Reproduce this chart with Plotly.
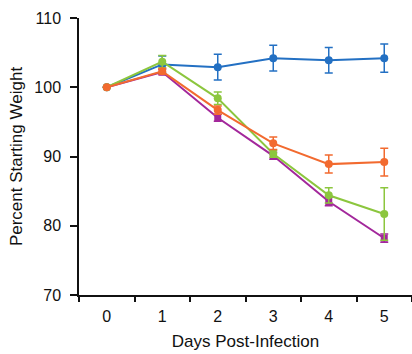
import plotly.graph_objects as go

days = ["0", "1", "2", "3", "4", "5"]
blue_vals = [100, 103.3, 102.9, 104.2, 103.9, 104.2]
blue_err = [0, 1.2, 1.85, 1.85, 1.85, 2.05]
orange_vals = [100, 102.3, 96.7, 91.9, 88.9, 89.2]
orange_err = [0, 0.4, 0.6, 0.9, 1.3, 2.0]
green_vals = [100, 103.7, 98.4, 90.4, 84.4, 81.7]
green_err = [0, 0.9, 0.9, 0.5, 1.1, 3.8]
purple_vals = [100, 102.2, 95.6, 90.1, 83.5, 78.2]
purple_err = [0, 0.4, 0.5, 0.5, 0.6, 0.6]

series = [
    (purple_vals, purple_err, "#a3279b", ["circle"] + ["square"] * 5, 7),
    (blue_vals, blue_err, "#2370c3", "circle", 8),
    (green_vals, green_err, "#8cc63e", "circle", 8),
    (orange_vals, orange_err, "#f26a2f", "circle", 8),
]

fig = go.Figure()
for vals, err, color, sym, size in series:
    fig.add_trace(go.Scatter(
        x=days, y=vals, mode="lines+markers",
        line=dict(color=color, width=2),
        marker=dict(color=color, size=size, symbol=sym),
        error_y=dict(type="data", array=err, visible=True, color=color, thickness=1.5, width=4),
        showlegend=False,
    ))

font = dict(family="Liberation Sans, Arial, sans-serif", size=14, color="#111")
tickfont = dict(family="Liberation Sans, Arial, sans-serif", size=16, color="#111")
fig.update_layout(
    width=412, height=354,
    margin=dict(l=79, r=0, t=18, b=59),
    plot_bgcolor="white", paper_bgcolor="white",
    font=font,
    xaxis=dict(
        type="category", tickson="boundaries", ticks="outside", ticklen=5,
        tickwidth=1.5, tickcolor="#111", showline=True, linecolor="#111",
        linewidth=1.5, showgrid=False, range=[-0.5, 5.5], tickfont=tickfont,
        ticklabelstandoff=6, automargin=False,
        title=dict(text="Days Post-Infection", standoff=11),
    ),
    yaxis=dict(
        range=[70, 110], tickvals=[70, 80, 90, 100, 110], ticks="outside",
        ticklen=7, tickwidth=1.5, tickcolor="#111", showline=True,
        linecolor="#111", linewidth=1.5, showgrid=False, zeroline=False,
        tickfont=tickfont, ticklabelstandoff=6, automargin=False,
        title=dict(text="Percent Starting Weight", standoff=7),
    ),
)
fig.write_html("out.html")
